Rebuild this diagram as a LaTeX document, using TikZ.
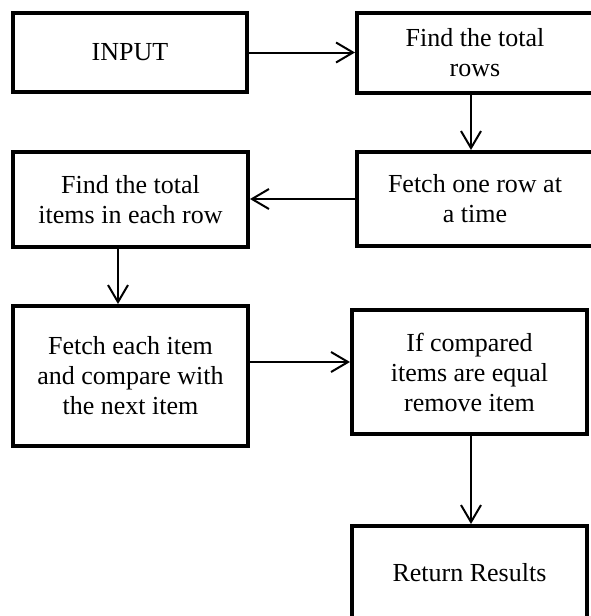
\documentclass[tikz,border=0pt]{standalone}
\usepackage{fontspec}
\setmainfont{Liberation Serif}
\usetikzlibrary{arrows.meta}
\begin{document}
\begin{tikzpicture}[x=1pt, y=-1pt,
  stepbox/.style={draw, line width=4pt, align=center, inner sep=0pt,
    font=\fontsize{26}{30}\selectfont},
  flow/.style={line width=2pt, -{Straight Barb[length=17pt,width=20pt]}}]
\useasboundingbox (0,0) rectangle (591,616);
% process boxes (sizes measured between line centres)
\node[stepbox, minimum width=234pt, minimum height=79pt] (inp) at (130,52.5) {INPUT};
\node[stepbox, minimum width=236pt, minimum height=80pt] (rows) at (475,53) {Find the total\\rows};
\node[stepbox, minimum width=236pt, minimum height=94pt] (fetchrow) at (475,199) {Fetch one row at\\a time};
\node[stepbox, minimum width=235pt, minimum height=95pt] (items) at (130.5,199.5) {Find the total\\items in each row};
\node[stepbox, minimum width=235pt, minimum height=140pt] (fetchitem) at (130.5,376) {Fetch each item\\and compare with\\the next item};
\node[stepbox, minimum width=235pt, minimum height=124pt] (cmp) at (469.5,372) {If compared\\items are equal\\remove item};
\node[stepbox, minimum width=235pt, minimum height=94pt] (ret) at (469.5,573) {Return Results};
% connectors
\draw[flow] (inp.east) -- (inp.east -| rows.west);
\draw[flow] ([xshift=-4pt]rows.south) -- ([xshift=-4pt]fetchrow.north);
\draw[flow] (fetchrow.west) -- (fetchrow.west -| items.east);
\draw[flow] ([xshift=-12.5pt]items.south) -- ([xshift=-12.5pt]fetchitem.north);
\coordinate (c5) at ([yshift=14pt]fetchitem.east);
\draw[flow] (c5) -- (c5 -| cmp.west);
\draw[flow] ([xshift=1.5pt]cmp.south) -- ([xshift=1.5pt]ret.north);
\end{tikzpicture}
\end{document}
